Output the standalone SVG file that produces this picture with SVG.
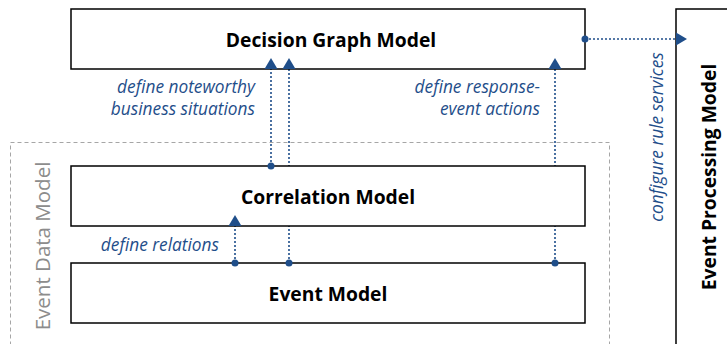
<svg xmlns="http://www.w3.org/2000/svg" width="727" height="344" viewBox="0 0 727 344">
  <style>
    .box { fill: #ffffff; stroke: #000000; stroke-width: 1.5; }
    .group { fill: none; stroke: #a6a6a6; stroke-width: 1; stroke-dasharray: 4 3; }
    .title { font-family: "Open Sans", "Liberation Sans", sans-serif; font-weight: bold; font-size: 19.3px; fill: #000000; text-anchor: middle; }
    .label { font-family: "Open Sans", "Liberation Sans", sans-serif; font-style: italic; font-size: 17.3px; fill: #1f4e8a; }
    .grp-label { font-family: "Open Sans", "Liberation Sans", sans-serif; font-size: 20.5px; fill: #8c8c8c; text-anchor: middle; }
    .link { fill: none; stroke: #1f4e8a; stroke-width: 1.6; stroke-dasharray: 2 2; }
    .dot { fill: #1f4e8a; }
  </style>

  <!-- event data model grouping -->
  <g id="event-data-model">
    <rect class="group" x="10.5" y="142.5" width="599" height="220"/>
    <text class="grp-label" transform="translate(50,246) rotate(-90)">Event Data Model</text>
  </g>

  <!-- connectors (drawn before boxes so boxes hide the pass-through segments) -->
  <g id="connectors">
    <line class="link" x1="271" y1="166" x2="271" y2="69"/>
    <line class="link" x1="289" y1="263" x2="289" y2="69"/>
    <line class="link" x1="555" y1="263" x2="555" y2="69"/>
    <line class="link" x1="235" y1="263" x2="235" y2="226"/>
    <line class="link" x1="585" y1="39" x2="676" y2="39"/>
  </g>

  <g id="decision-graph-model">
    <rect class="box" x="71" y="9" width="514" height="60"/>
    <text class="title" x="331" y="46.5">Decision Graph Model</text>
  </g>

  <g id="correlation-model">
    <rect class="box" x="71" y="166" width="514" height="60"/>
    <text class="title" x="328" y="203.5">Correlation Model</text>
  </g>

  <g id="event-model">
    <rect class="box" x="71" y="263" width="514" height="60"/>
    <text class="title" x="328" y="300.5">Event Model</text>
  </g>

  <g id="event-processing-model">
    <rect class="box" x="676" y="9" width="80" height="360"/>
    <text class="title" transform="translate(716,177) rotate(-90)">Event Processing Model</text>
  </g>

  <!-- arrowheads and start dots on top of the boxes -->
  <g id="connector-ends">
    <path d="M271,58 L277.5,69 L264.5,69 Z" class="dot"/>
    <path d="M289,58 L295.5,69 L282.5,69 Z" class="dot"/>
    <path d="M555,58 L561.5,69 L548.5,69 Z" class="dot"/>
    <path d="M235,215 L241.5,226 L228.5,226 Z" class="dot"/>
    <path d="M687,39 L676,32.5 L676,45.5 Z" class="dot"/>
    <circle class="dot" cx="271" cy="166" r="3.5"/>
    <circle class="dot" cx="289" cy="263" r="3.5"/>
    <circle class="dot" cx="555" cy="263" r="3.5"/>
    <circle class="dot" cx="235" cy="263" r="3.5"/>
    <circle class="dot" cx="585" cy="39" r="3.5"/>
  </g>

  <g id="connector-labels">
    <text class="label" text-anchor="end" x="255" y="93">define noteworthy</text>
    <text class="label" text-anchor="end" x="255" y="115">business situations</text>
    <text class="label" text-anchor="end" x="540" y="93">define response-</text>
    <text class="label" text-anchor="end" x="540" y="115">event actions</text>
    <text class="label" text-anchor="end" x="219" y="251">define relations</text>
    <text class="label" text-anchor="middle" transform="translate(663,137) rotate(-90)">configure rule services</text>
  </g>
</svg>
